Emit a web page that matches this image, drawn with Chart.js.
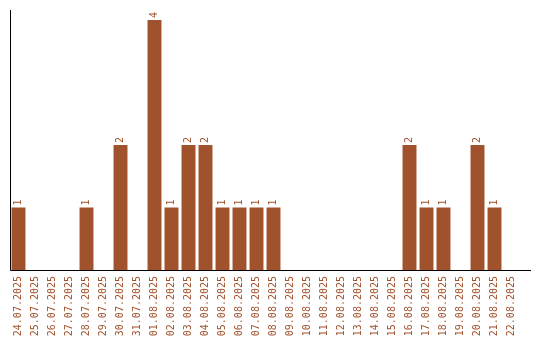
<!DOCTYPE html>
<html>
<head>
<meta charset="utf-8">
<script src="https://cdn.jsdelivr.net/npm/chart.js@4"></script>
<style>
  html, body { margin: 0; padding: 0; background: #fff; }
  #wrap { width: 540px; height: 340px; }
</style>
</head>
<body>
<div id="wrap"><canvas id="myChart"></canvas></div>
<script>
//dates and counts
const days = ['24.07.2025', '25.07.2025', '26.07.2025', '27.07.2025', '28.07.2025', '29.07.2025', '30.07.2025', '31.07.2025',
  '01.08.2025', '02.08.2025', '03.08.2025', '04.08.2025', '05.08.2025', '06.08.2025', '07.08.2025', '08.08.2025',
  '09.08.2025', '10.08.2025', '11.08.2025', '12.08.2025', '13.08.2025', '14.08.2025', '15.08.2025', '16.08.2025',
  '17.08.2025', '18.08.2025', '19.08.2025', '20.08.2025', '21.08.2025', '22.08.2025'];
const counts = [1, 0, 0, 0, 1, 0, 2, 0, 4, 1, 2, 2, 1, 1, 1, 1, 0, 0, 0, 0, 0, 0, 0, 2, 1, 1, 0, 2, 1, 0];

const brown = '#a0522d';
const monoFont = '"DejaVu Sans Mono", monospace';

//axis lines + value labels above bars
const extras = {
  id: 'extras',
  afterDatasetsDraw(chart) {
    const ctx = chart.ctx;
    const area = chart.chartArea;
    ctx.save();
    ctx.strokeStyle = '#000';
    ctx.lineWidth = 1;
    ctx.beginPath();
    ctx.moveTo(area.left + 0.5, area.top);
    ctx.lineTo(area.left + 0.5, area.bottom + 0.5);
    ctx.lineTo(area.right + 11, area.bottom + 0.5);
    ctx.stroke();

    ctx.fillStyle = brown;
    ctx.font = '10px ' + monoFont;
    ctx.textAlign = 'left';
    ctx.textBaseline = 'middle';
    chart.getDatasetMeta(0).data.forEach((bar, i) => {
      if (!counts[i]) return;
      ctx.save();
      ctx.translate(bar.x, bar.y - 2);
      ctx.rotate(-Math.PI / 2);
      ctx.fillText(String(counts[i]), 0, 0);
      ctx.restore();
    });
    ctx.restore();
  }
};

let config = {
  type: 'bar',
  data: {
    labels: days,
    datasets: [{
      data: counts,
      backgroundColor: brown,
      barPercentage: 0.82,
      categoryPercentage: 1
    }]
  },
  options: {
    responsive: true,
    maintainAspectRatio: false,
    animation: false,
    layout: {
      padding: { left: 10, top: 10, right: 20, bottom: 0 }
    },
    scales: {
      x: {
        grid: { display: false, drawTicks: false },
        border: { display: false },
        afterFit: (scale) => { scale.height = 70; },
        ticks: {
          color: brown,
          font: { family: monoFont, size: 10 },
          maxRotation: 90,
          minRotation: 90,
          autoSkip: false,
          padding: 6
        }
      },
      y: {
        display: false,
        min: 0,
        max: 4.16
      }
    },
    plugins: {
      legend: { display: false },
      tooltip: { enabled: false }
    }
  },
  plugins: [extras]
};

let newChart = new Chart(document.getElementById('myChart'), config);
</script>
</body>
</html>
